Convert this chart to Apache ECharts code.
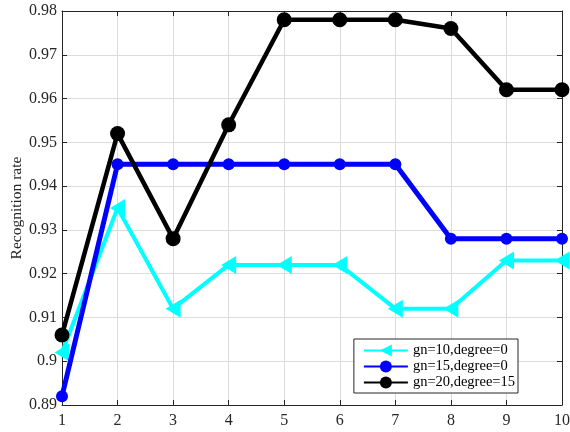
<!DOCTYPE html>
<html><head><meta charset="utf-8">
<script src="https://cdn.jsdelivr.net/npm/echarts@6/dist/echarts.min.js"></script>
<style>html,body{margin:0;padding:0;background:#fff}#c{width:570px;height:432px}</style>
</head><body><div id="c"></div>
<script>
const categories = [1,2,3,4,5,6,7,8,9,10];
const gn10 = [0.902,0.935,0.912,0.922,0.922,0.922,0.912,0.912,0.923,0.923];
const gn15 = [0.892,0.945,0.945,0.945,0.945,0.945,0.945,0.928,0.928,0.928];
const gn20 = [0.906,0.952,0.928,0.954,0.978,0.978,0.978,0.976,0.962,0.962];
const names = ['gn=10,degree=0','gn=15,degree=0','gn=20,degree=15'];
const yTicks = [0.89,0.9,0.91,0.92,0.93,0.94,0.95,0.96,0.97,0.98];

const font = 'Liberation Serif, Times New Roman, serif';
const chart = echarts.init(document.getElementById('c'));
const pair = a => a.map((v,i)=>[categories[i], v]);
const axisLine = {show:true, lineStyle:{color:'#262626', width:1}};
chart.setOption({
  animation:false,
  backgroundColor:'#fff',
  grid:{left:62, right:8, top:11, bottom:27, containLabel:false, outerBoundsMode:'none'},
  xAxis:[{
    type:'value', min:1, max:10, interval:1,
    axisLine, axisTick:{show:true, inside:true, length:5, lineStyle:{color:'#262626'}},
    axisLabel:{color:'#262626', fontFamily:font, fontSize:16, margin:8},
    splitLine:{show:true, lineStyle:{color:'#dcdcdc', width:1}}
  },{
    type:'value', min:1, max:10, interval:1, position:'top',
    axisLine, axisTick:{show:true, inside:true, length:5, lineStyle:{color:'#262626'}},
    axisLabel:{show:false}, splitLine:{show:false}
  }],
  yAxis:[{
    type:'value', min:0.89, max:0.98, interval:0.01,
    name:'Recognition rate', nameLocation:'middle', nameGap:37, nameMoveOverlap:false,
    nameTextStyle:{color:'#262626', fontFamily:font, fontSize:15.5},
    axisLine, axisTick:{show:true, inside:true, length:5, lineStyle:{color:'#262626'}},
    axisLabel:{color:'#262626', fontFamily:font, fontSize:16, margin:5,
      formatter: v => String(Math.round(v*100)/100)},
    splitLine:{show:true, lineStyle:{color:'#dcdcdc', width:1}}
  },{
    type:'value', min:0.89, max:0.98, interval:0.01, position:'right',
    axisLine, axisTick:{show:true, inside:true, length:5, lineStyle:{color:'#262626'}},
    axisLabel:{show:false}, splitLine:{show:false}
  }],
  legend:{
    right:52, bottom:39, orient:'vertical',
    backgroundColor:'#fff', borderColor:'#262626', borderWidth:1,
    padding:[4,3,3,9], itemGap:1, itemWidth:44, itemHeight:15,
    textStyle:{fontFamily:font, fontSize:14.5, color:'#000'},
    data:names
  },
  series:[
    {name:names[0], type:'line', data:pair(gn10), symbol:'triangle', symbolRotate:90,
     symbolSize:[18,15], lineStyle:{color:'#00ffff', width:4}, itemStyle:{color:'#00ffff'}, z:3, clip:false},
    {name:names[1], type:'line', data:pair(gn15), symbol:'circle', symbolSize:12,
     lineStyle:{color:'#0000ff', width:5}, itemStyle:{color:'#0000ff'}, z:4, clip:false},
    {name:names[2], type:'line', data:pair(gn20), symbol:'circle', symbolSize:15,
     lineStyle:{color:'#000', width:4.5}, itemStyle:{color:'#000'}, z:5, clip:false}
  ]
});
</script></body></html>
